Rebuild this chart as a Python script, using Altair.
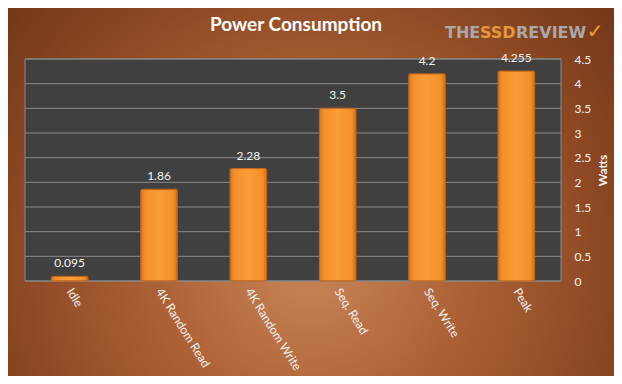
import altair as alt
import pandas as pd

categories = ["Idle", "4K Random Read", "4K Random Write", "Seq. Read", "Seq. Write", "Peak"]
values = [0.095, 1.86, 2.28, 3.5, 4.2, 4.255]
value_labels = ["0.095", "1.86", "2.28", "3.5", "4.2", "4.255"]
y_ticks = [0, 0.5, 1, 1.5, 2, 2.5, 3, 3.5, 4, 4.5]
title_text = "Power Consumption"

W, H = 536, 222
PL, PT, PR, PB = 17, 51, 53, 95
FONT = "Lato"
TXT = "#f4f4f4"

df = pd.DataFrame({"cat": categories, "val": values, "lab": value_labels})
grid_df = pd.DataFrame({"t": y_ticks})
one = pd.DataFrame({"a": [0]})

xs = alt.Scale(domain=categories, paddingInner=0.59, paddingOuter=0.295)
ys = alt.Scale(domain=[0, 4.5], nice=False, zero=True)

y_axis = alt.Axis(orient="right", values=y_ticks, tickCount=10, format=".1~f",
                  labelColor=TXT, labelFont=FONT,
                  labelFontSize=12, labelPadding=13, labelAlign="left", labelOverlap=False,
                  labelFlush=False, domain=False, ticks=False, grid=False, titleColor=TXT,
                  titleFont=FONT, titleFontSize=12, titleFontWeight="bold", titleAngle=270,
                  titlePadding=19, zindex=1)

bg_grad = alt.RadialGradient(
    gradient="radial", x1=0.5, y1=0.62, r1=0.0, x2=0.5, y2=0.62, r2=0.72,
    stops=[
        alt.GradientStop(offset=0.0, color="#c88558"),
        alt.GradientStop(offset=0.35, color="#ad6236"),
        alt.GradientStop(offset=0.7, color="#8a4622"),
        alt.GradientStop(offset=1.0, color="#683114"),
    ],
)
bar_grad = alt.LinearGradient(
    gradient="linear", x1=0, y1=0, x2=1, y2=0,
    stops=[
        alt.GradientStop(offset=0.0, color="#d8761c"),
        alt.GradientStop(offset=0.12, color="#f4902a"),
        alt.GradientStop(offset=0.5, color="#fb9c38"),
        alt.GradientStop(offset=0.88, color="#f4902a"),
        alt.GradientStop(offset=1.0, color="#d0701a"),
    ],
)

background = alt.Chart(one).mark_rect(fill=bg_grad).encode(
    x=alt.value(-PL), x2=alt.value(W + PR), y=alt.value(-PT), y2=alt.value(H + PB)
)
plotbg = alt.Chart(one).mark_rect(fill="#404040", stroke="#8a8a8a", strokeWidth=1).encode(
    x=alt.value(0), x2=alt.value(W), y=alt.value(0), y2=alt.value(H)
)
grid = alt.Chart(grid_df).mark_rule(color="#8a8a8a", strokeWidth=1).encode(
    x=alt.value(0), x2=alt.value(W), y=alt.Y("t:Q", scale=ys, title="Watts", axis=y_axis)
)
bars = alt.Chart(df).mark_bar(fill=bar_grad, stroke="#c2661a", strokeWidth=1, cornerRadius=1.5).encode(
    x=alt.X("cat:N", scale=xs, sort=categories, title=None,
            axis=alt.Axis(labelAngle=58, labelColor=TXT, labelFont=FONT, labelFontSize=12,
                          labelPadding=8, domain=False, ticks=False, grid=False, zindex=1)),
    y=alt.Y("val:Q", scale=ys, title="Watts", axis=y_axis),
)
texts = alt.Chart(df).mark_text(color=TXT, font=FONT, fontSize=12, baseline="bottom", dy=-6).encode(
    x=alt.X("cat:N", scale=xs, sort=categories), y=alt.Y("val:Q", scale=ys), text="lab:N"
)
title = alt.Chart(one).mark_text(text=title_text, color="#ffffff", font=FONT, fontSize=19,
                                 fontWeight="bold", align="center", baseline="alphabetic").encode(
    x=alt.value(271), y=alt.value(-28))
logo_the = alt.Chart(one).mark_text(text="THE", color="#a9a9a9", font="DejaVu Sans", fontWeight="bold",
                                    fontSize=16, align="left", baseline="alphabetic").encode(
    x=alt.value(420), y=alt.value(-21))
logo_ssd = alt.Chart(one).mark_text(text="SSD", color="#e39a3c", font="DejaVu Sans", fontWeight="bold",
                                    fontSize=16, align="left", baseline="alphabetic").encode(
    x=alt.value(455), y=alt.value(-21))
logo_rev = alt.Chart(one).mark_text(text="REVIEW", color="#a9a9a9", font="DejaVu Sans", fontWeight="bold",
                                    fontSize=16, align="left", baseline="alphabetic").encode(
    x=alt.value(491), y=alt.value(-21))
logo_chk = alt.Chart(one).mark_text(text="✓", color="#f0a030", font="DejaVu Sans", fontWeight="bold",
                                    fontSize=20, align="center", baseline="alphabetic").encode(
    x=alt.value(570), y=alt.value(-21))

chart = alt.layer(background, plotbg, grid, bars, texts, title,
                  logo_the, logo_ssd, logo_rev, logo_chk).properties(
    width=W, height=H,
    autosize=alt.AutoSizeParams(type="none"),
    padding={"left": PL, "top": PT, "right": PR, "bottom": PB},
    background="#8a4a24",
).configure_view(stroke=None).configure_axisY(labelOverlap=False)

chart.save("out.html", embed_options={"renderer": "svg", "actions": False})
